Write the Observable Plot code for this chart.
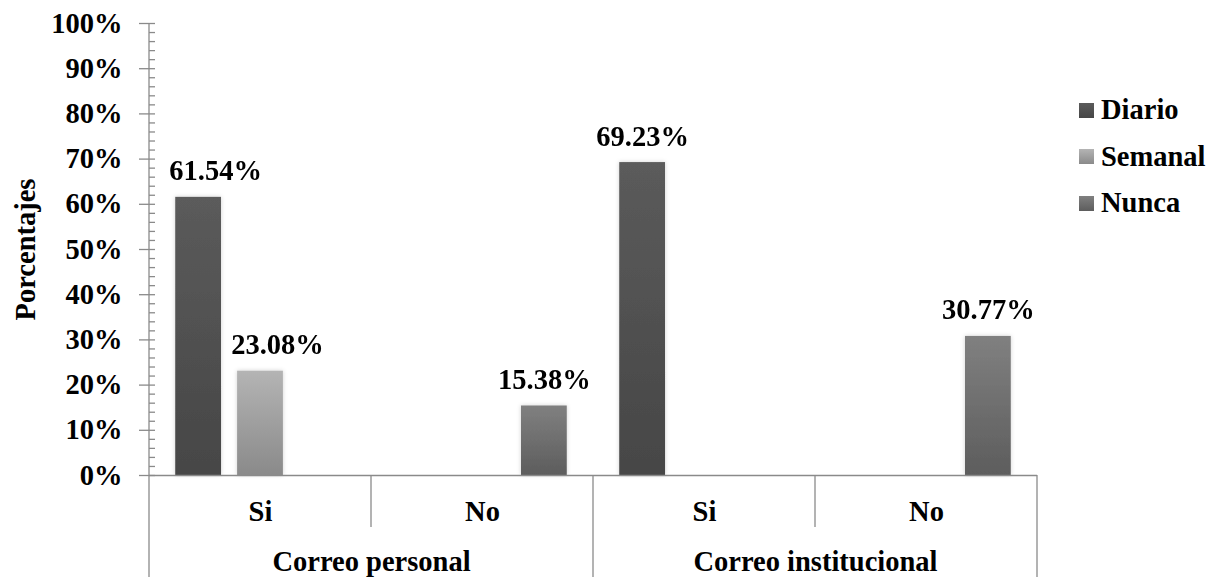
<!DOCTYPE html>
<html><head><meta charset="utf-8">
<script src="https://cdn.jsdelivr.net/npm/d3@7"></script>
<script src="https://cdn.jsdelivr.net/npm/@observablehq/plot@0.6"></script>
<style>
body{margin:0;background:#fff;}
#wrap{position:relative;width:1213px;height:577px;font-family:'Liberation Serif','Times New Roman',Times,Tinos,'Nimbus Roman','Nimbus Roman No9 L','FreeSerif','Noto Serif','DejaVu Serif',serif;font-weight:bold;color:#000;}
#wrap svg, #wrap svg text{font-family:'Liberation Serif','Times New Roman',Times,Tinos,'Nimbus Roman','Nimbus Roman No9 L','FreeSerif','Noto Serif','DejaVu Serif',serif !important;}
#legend{position:absolute;left:1079px;top:87px;}
.row{display:flex;align-items:center;height:46.5px;font-size:28.5px;}
.sw{width:15px;height:15px;margin-right:7px;}
</style></head><body><div id="wrap"><div id="legend"></div></div>
<script>
const groups = ["Correo personal", "Correo personal", "Correo institucional", "Correo institucional"];
const answers = ["Si", "No", "Si", "No"];
const series = ["Diario", "Semanal", "Nunca"];
const diario = [0.6154, 0, 0.6923, 0];
const semanal = [0.2308, 0, 0, 0];
const nunca = [0, 0.1538, 0, 0.3077];
const yTicks = [0, 0.1, 0.2, 0.3, 0.4, 0.5, 0.6, 0.7, 0.8, 0.9, 1];

const gradients = {
  Diario: ["gD", "#5b5b5b", "#464646"],
  Semanal: ["gS", "#b4b4b4", "#8a8a8a"],
  Nunca: ["gN", "#808080", "#5d5d5d"]
};

const keys = groups.map((g, i) => g + "|" + answers[i]);
const seriesValues = {Diario: diario, Semanal: semanal, Nunca: nunca};
const rows = [];
keys.forEach((k, i) => {
  series.forEach(s => {
    const v = seriesValues[s][i];
    if (v > 0) rows.push({key: k, group: groups[i], answer: answers[i], serie: s, value: v});
  });
});
const cats = keys.map((k, i) => ({key: k, group: groups[i], answer: answers[i]}));
const fmt = d3.format(".2%");
const minorTicks = d3.range(0, 51).map(d => d / 50);
const axisColor = "#8a8a8a";

const plot = Plot.plot({
  width: 1213, height: 577,
  marginLeft: 148, marginRight: 175, marginTop: 23, marginBottom: 102,
  style: {fontSize: "28.5px", fontWeight: "bold", color: "#000", background: "#fff", overflow: "visible"},
  fx: {domain: keys, padding: 0, axis: null},
  x: {domain: series, paddingInner: 0.26, paddingOuter: 0.424, axis: null, round: false},
  y: {domain: [0, 1]},
  color: {domain: series, range: series.map(s => `url(#${gradients[s][0]})`)},
  marks: [
    Plot.barY(rows, {fx: "key", x: "serie", y: "value", fill: "serie"}),
    Plot.ruleY([0], {stroke: axisColor, strokeWidth: 1.3}),
    Plot.axisY(yTicks, {tickSize: 10, tickPadding: 17, tickFormat: d3.format(".0%"), stroke: axisColor, strokeWidth: 1.3, fill: "#000", label: null}),
    Plot.axisY(minorTicks, {tickSize: 6, dx: 6, tickFormat: () => "", stroke: axisColor, strokeWidth: 1.3, label: null}),
    Plot.text(rows.filter(d => d.key !== keys[0]), {fx: "key", x: "serie", y: "value", text: d => fmt(d.value), dy: -17, lineAnchor: "bottom"}),
    Plot.text(rows.filter(d => d.key === keys[0]), {fx: "key", x: "serie", y: "value", text: d => fmt(d.value), dy: -17, dx: 17, lineAnchor: "bottom"}),
    Plot.text(cats, {fx: "key", text: "answer", frameAnchor: "bottom", dy: 45, lineAnchor: "bottom"}),
    Plot.text(cats.filter(d => d.answer === "Si"), {fx: "key", text: "group", frameAnchor: "bottom-right", textAnchor: "middle", dy: 95, lineAnchor: "bottom"}),
    Plot.text(["Porcentajes"], {fx: () => keys[0], text: d => d, frameAnchor: "left", textAnchor: "middle", rotate: -90, dx: -124})
  ]
});

const svg = d3.select(plot);
const defs = svg.insert("defs", ":first-child");
Object.values(gradients).forEach(([id, c0, c1]) => {
  const g = defs.append("linearGradient").attr("id", id).attr("x1", 0).attr("y1", 0).attr("x2", 0).attr("y2", 1);
  g.append("stop").attr("offset", "0%").attr("stop-color", c0);
  g.append("stop").attr("offset", "100%").attr("stop-color", c1);
});
const f = defs.append("filter").attr("id", "sh").attr("x", "-30%").attr("y", "-5%").attr("width", "160%").attr("height", "110%");
f.append("feDropShadow").attr("dx", 0).attr("dy", 0).attr("stdDeviation", 2).attr("flood-color", "#000").attr("flood-opacity", 0.18);
svg.selectAll('g[aria-label="bar"]').attr("filter", "url(#sh)");

// hierarchical category axis lines
const fxS = plot.scale("fx");
const yS = plot.scale("y");
const y0 = yS.apply(0), y1 = yS.apply(1);
const bw = fxS.bandwidth;
const H = 577;
const lines = svg.append("g").attr("stroke", axisColor).attr("stroke-width", 1.3);
keys.forEach((k, i) => {
  const x = fxS.apply(k);
  lines.append("line").attr("x1", x).attr("x2", x).attr("y1", i === 0 ? y1 : y0).attr("y2", i % 2 === 0 ? H : y0 + 52);
});
const xr = fxS.apply(keys[keys.length - 1]) + bw;
lines.append("line").attr("x1", xr).attr("x2", xr).attr("y1", y0).attr("y2", H);

document.getElementById("wrap").prepend(plot);

// legend
const leg = d3.select("#legend");
series.forEach(s => {
  const [id, c0, c1] = gradients[s];
  const r = leg.append("div").attr("class", "row");
  r.append("div").attr("class", "sw").style("background", `linear-gradient(${c0}, ${c1})`);
  r.append("span").text(s);
});
</script>
</body></html>
